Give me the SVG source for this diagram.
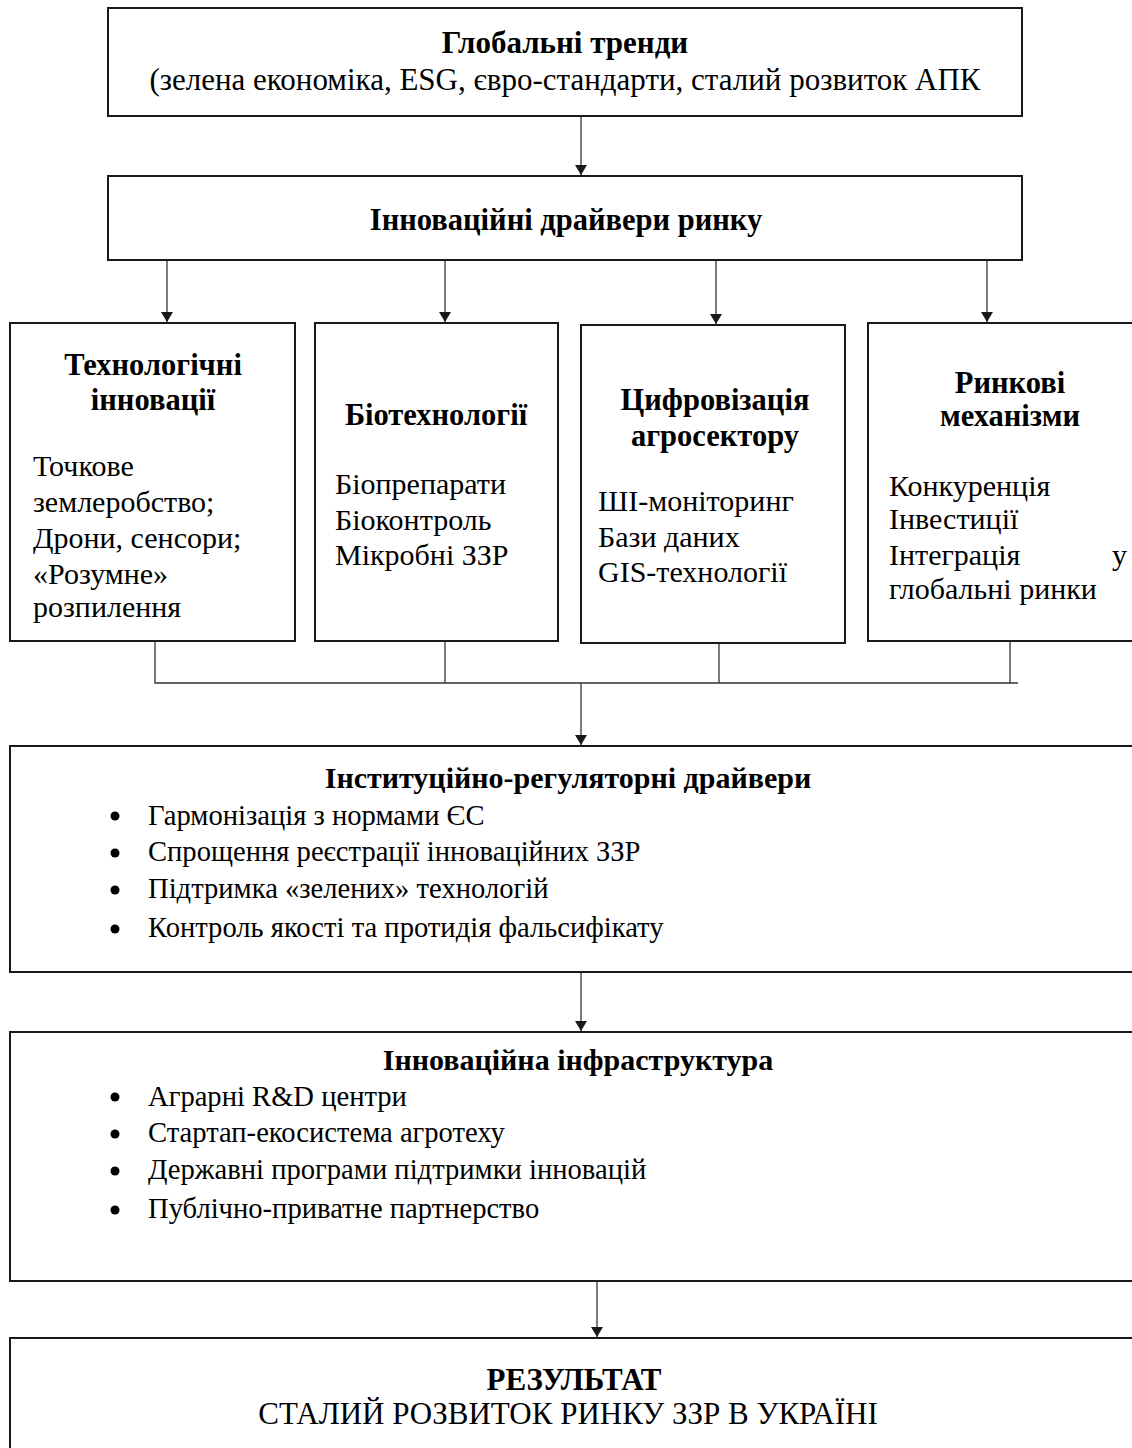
<svg xmlns="http://www.w3.org/2000/svg" width="1132" height="1448" viewBox="0 0 1132 1448">
<defs>
<style>
.box{fill:#fff;stroke:#1a1a1a;stroke-width:2}
.ln{fill:none;stroke:#333;stroke-width:1.3}
text{font-family:"Liberation Serif","Times New Roman",serif;font-size:30px;fill:#000}
.b{font-weight:bold}
.c{text-anchor:middle}
.lg{font-size:31px}
.bl{font-size:28.6px}
.h{font-size:30.5px}
</style>
<marker id="ah" viewBox="0 0 10 12" refX="10" refY="6" markerWidth="10" markerHeight="12" markerUnits="userSpaceOnUse" orient="auto">
<path d="M0,0 L10,6 L0,12 Z" fill="#1a1a1a"/>
</marker>
</defs>
<rect width="1132" height="1448" fill="#fff"/>
<g id="connectors">
<line class="ln" x1="581" y1="116" x2="581" y2="175" marker-end="url(#ah)"/>
<line class="ln" x1="167" y1="260" x2="167" y2="322" marker-end="url(#ah)"/>
<line class="ln" x1="445" y1="260" x2="445" y2="322" marker-end="url(#ah)"/>
<line class="ln" x1="716" y1="260" x2="716" y2="324" marker-end="url(#ah)"/>
<line class="ln" x1="987" y1="260" x2="987" y2="322" marker-end="url(#ah)"/>
<polyline class="ln" points="155,641 155,683 1018,683"/>
<line class="ln" x1="445" y1="641" x2="445" y2="683"/>
<line class="ln" x1="719" y1="643" x2="719" y2="683"/>
<line class="ln" x1="1010" y1="641" x2="1010" y2="683"/>
<line class="ln" x1="581" y1="683" x2="581" y2="745" marker-end="url(#ah)"/>
<line class="ln" x1="581" y1="972" x2="581" y2="1031" marker-end="url(#ah)"/>
<line class="ln" x1="597" y1="1281" x2="597" y2="1337" marker-end="url(#ah)"/>
</g>
<g id="global">
<rect class="box" x="108" y="8" width="914" height="108"/>
<text class="b c lg" x="565" y="53">Глобальні тренди</text>
<text class="c lg" x="565" y="90">(зелена економіка, ESG, євро-стандарти, сталий розвиток АПК</text>
</g>
<g id="drivers">
<rect class="box" x="108" y="176" width="914" height="84"/>
<text class="b c h" x="566" y="230">Інноваційні драйвери ринку</text>
</g>
<g id="tech">
<rect class="box" x="10" y="323" width="285" height="318"/>
<text class="b c h" x="153" y="375">Технологічні</text>
<text class="b c h" x="153" y="410">інновації</text>
<text x="33" y="476">Точкове</text>
<text x="33" y="512">землеробство;</text>
<text x="33" y="548">Дрони, сенсори;</text>
<text x="33" y="584">«Розумне»</text>
<text x="33" y="617">розпилення</text>
</g>
<g id="bio">
<rect class="box" x="315" y="323" width="243" height="318"/>
<text class="b c h" x="436" y="425">Біотехнології</text>
<text x="335" y="494">Біопрепарати</text>
<text x="335" y="530">Біоконтроль</text>
<text x="335" y="565">Мікробні ЗЗР</text>
</g>
<g id="digital">
<rect class="box" x="581" y="325" width="264" height="318"/>
<text class="b c h" x="715" y="410">Цифровізація</text>
<text class="b c h" x="715" y="446">агросектору</text>
<text x="598" y="511">ШІ-моніторинг</text>
<text x="598" y="547">Бази даних</text>
<text x="598" y="582">GIS-технології</text>
</g>
<g id="market">
<rect class="box" x="868" y="323" width="280" height="318"/>
<text class="b c h" x="1010" y="393">Ринкові</text>
<text class="b c h" x="1010" y="426">механізми</text>
<text x="889" y="496">Конкуренція</text>
<text x="889" y="529">Інвестиції</text>
<text x="889" y="565">Інтеграція</text>
<text x="1112" y="565">у</text>
<text x="889" y="599">глобальні ринки</text>
</g>
<g id="institutional">
<rect class="box" x="10" y="746" width="1140" height="226"/>
<text class="b c" x="568" y="788">Інституційно-регуляторні драйвери</text>
<circle cx="115" cy="816" r="4.5"/><text class="bl" x="148" y="825">Гармонізація з нормами ЄС</text>
<circle cx="115" cy="853" r="4.5"/><text class="bl" x="148" y="861">Спрощення реєстрації інноваційних ЗЗР</text>
<circle cx="115" cy="890" r="4.5"/><text class="bl" x="148" y="898">Підтримка «зелених» технологій</text>
<circle cx="115" cy="929" r="4.5"/><text class="bl" x="148" y="937">Контроль якості та протидія фальсифікату</text>
</g>
<g id="infrastructure">
<rect class="box" x="10" y="1032" width="1140" height="249"/>
<text class="b c" x="578" y="1070">Інноваційна інфраструктура</text>
<circle cx="115" cy="1097" r="4.5"/><text class="bl" x="148" y="1106">Аграрні R&amp;D центри</text>
<circle cx="115" cy="1134" r="4.5"/><text class="bl" x="148" y="1142">Стартап-екосистема агротеху</text>
<circle cx="115" cy="1171" r="4.5"/><text class="bl" x="148" y="1179">Державні програми підтримки інновацій</text>
<circle cx="115" cy="1210" r="4.5"/><text class="bl" x="148" y="1218">Публічно-приватне партнерство</text>
</g>
<g id="result">
<rect class="box" x="10" y="1338" width="1140" height="140"/>
<text class="b c lg" x="574" y="1390">РЕЗУЛЬТАТ</text>
<text class="c lg" x="568" y="1424">СТАЛИЙ РОЗВИТОК РИНКУ ЗЗР В УКРАЇНІ</text>
</g>
</svg>
